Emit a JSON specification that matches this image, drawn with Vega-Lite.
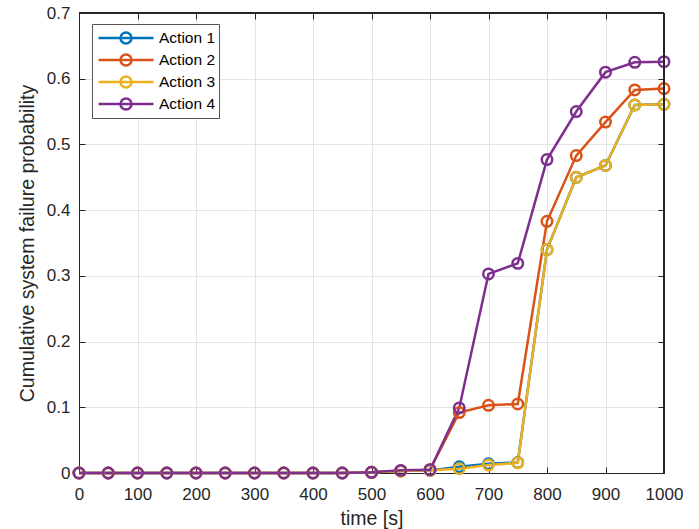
{
  "$schema": "https://vega.github.io/schema/vega-lite/v6.json",
  "width": 585,
  "height": 460,
  "autosize": {"type": "none"},
  "padding": {"left": 79, "top": 13, "right": 35, "bottom": 56},
  "background": "white",
  "config": {
    "view": {"stroke": "#262626", "strokeWidth": 1},
    "font": "Liberation Sans",
    "axis": {
      "domainColor": "#262626",
      "tickColor": "#262626",
      "labelColor": "#262626",
      "titleColor": "#262626",
      "gridColor": "#e3e3e3",
      "tickSize": -6,
      "labelFontSize": 17,
      "titleFontSize": 19.5,
      "titleFontWeight": "normal",
      "labelFont": "Liberation Sans",
      "titleFont": "Liberation Sans",
      "labelFlush": false
    },
    "legend": {
      "orient": "none",
      "legendX": 13,
      "legendY": 11,
      "strokeColor": "#555555",
      "fillColor": "white",
      "padding": 3,
      "symbolOffset": 2,
      "labelOffset": 4,
      "symbolType": "M-1,0L1,0M-0.2,0A0.2,0.2,0,1,0,0.2,0A0.2,0.2,0,1,0,-0.2,0",
      "symbolSize": 3025,
      "symbolStrokeWidth": 2.5,
      "clipHeight": 21.8,
      "rowPadding": 0,
      "labelFontSize": 15.5,
      "labelColor": "#000000",
      "labelFont": "Liberation Sans"
    }
  },
  "data": {
    "values": [
      {"s": "Action 1", "t": 0, "p": 0}, {"s": "Action 1", "t": 50, "p": 0}, {"s": "Action 1", "t": 100, "p": 0}, {"s": "Action 1", "t": 150, "p": 0}, {"s": "Action 1", "t": 200, "p": 0}, {"s": "Action 1", "t": 250, "p": 0}, {"s": "Action 1", "t": 300, "p": 0}, {"s": "Action 1", "t": 350, "p": 0}, {"s": "Action 1", "t": 400, "p": 0}, {"s": "Action 1", "t": 450, "p": 0}, {"s": "Action 1", "t": 500, "p": 0.001}, {"s": "Action 1", "t": 550, "p": 0.003}, {"s": "Action 1", "t": 600, "p": 0.004}, {"s": "Action 1", "t": 650, "p": 0.0095}, {"s": "Action 1", "t": 700, "p": 0.014}, {"s": "Action 1", "t": 750, "p": 0.016}, {"s": "Action 1", "t": 800, "p": 0.34}, {"s": "Action 1", "t": 850, "p": 0.45}, {"s": "Action 1", "t": 900, "p": 0.468}, {"s": "Action 1", "t": 950, "p": 0.56}, {"s": "Action 1", "t": 1000, "p": 0.561},
      {"s": "Action 2", "t": 0, "p": 0}, {"s": "Action 2", "t": 50, "p": 0}, {"s": "Action 2", "t": 100, "p": 0}, {"s": "Action 2", "t": 150, "p": 0}, {"s": "Action 2", "t": 200, "p": 0}, {"s": "Action 2", "t": 250, "p": 0}, {"s": "Action 2", "t": 300, "p": 0}, {"s": "Action 2", "t": 350, "p": 0}, {"s": "Action 2", "t": 400, "p": 0}, {"s": "Action 2", "t": 450, "p": 0}, {"s": "Action 2", "t": 500, "p": 0.001}, {"s": "Action 2", "t": 550, "p": 0.003}, {"s": "Action 2", "t": 600, "p": 0.005}, {"s": "Action 2", "t": 650, "p": 0.092}, {"s": "Action 2", "t": 700, "p": 0.103}, {"s": "Action 2", "t": 750, "p": 0.105}, {"s": "Action 2", "t": 800, "p": 0.383}, {"s": "Action 2", "t": 850, "p": 0.483}, {"s": "Action 2", "t": 900, "p": 0.534}, {"s": "Action 2", "t": 950, "p": 0.583}, {"s": "Action 2", "t": 1000, "p": 0.585},
      {"s": "Action 3", "t": 0, "p": 0}, {"s": "Action 3", "t": 50, "p": 0}, {"s": "Action 3", "t": 100, "p": 0}, {"s": "Action 3", "t": 150, "p": 0}, {"s": "Action 3", "t": 200, "p": 0}, {"s": "Action 3", "t": 250, "p": 0}, {"s": "Action 3", "t": 300, "p": 0}, {"s": "Action 3", "t": 350, "p": 0}, {"s": "Action 3", "t": 400, "p": 0}, {"s": "Action 3", "t": 450, "p": 0}, {"s": "Action 3", "t": 500, "p": 0.001}, {"s": "Action 3", "t": 550, "p": 0.003}, {"s": "Action 3", "t": 600, "p": 0.004}, {"s": "Action 3", "t": 650, "p": 0.0065}, {"s": "Action 3", "t": 700, "p": 0.012}, {"s": "Action 3", "t": 750, "p": 0.0155}, {"s": "Action 3", "t": 800, "p": 0.34}, {"s": "Action 3", "t": 850, "p": 0.45}, {"s": "Action 3", "t": 900, "p": 0.468}, {"s": "Action 3", "t": 950, "p": 0.56}, {"s": "Action 3", "t": 1000, "p": 0.561},
      {"s": "Action 4", "t": 0, "p": 0}, {"s": "Action 4", "t": 50, "p": 0}, {"s": "Action 4", "t": 100, "p": 0}, {"s": "Action 4", "t": 150, "p": 0}, {"s": "Action 4", "t": 200, "p": 0}, {"s": "Action 4", "t": 250, "p": 0}, {"s": "Action 4", "t": 300, "p": 0}, {"s": "Action 4", "t": 350, "p": 0}, {"s": "Action 4", "t": 400, "p": 0}, {"s": "Action 4", "t": 450, "p": 0}, {"s": "Action 4", "t": 500, "p": 0.001}, {"s": "Action 4", "t": 550, "p": 0.004}, {"s": "Action 4", "t": 600, "p": 0.005}, {"s": "Action 4", "t": 650, "p": 0.099}, {"s": "Action 4", "t": 700, "p": 0.303}, {"s": "Action 4", "t": 750, "p": 0.319}, {"s": "Action 4", "t": 800, "p": 0.477}, {"s": "Action 4", "t": 850, "p": 0.55}, {"s": "Action 4", "t": 900, "p": 0.61}, {"s": "Action 4", "t": 950, "p": 0.625}, {"s": "Action 4", "t": 1000, "p": 0.626}
    ]
  },
  "layer": [
    {
      "mark": {"type": "line", "strokeWidth": 2.5, "point": {"filled": false, "size": 110, "strokeWidth": 2.5}},
      "encoding": {
        "x": {
          "field": "t", "type": "quantitative",
          "scale": {"domain": [0, 1000], "nice": false, "zero": false},
          "axis": {"values": [0, 100, 200, 300, 400, 500, 600, 700, 800, 900, 1000], "grid": true, "title": "time [s]", "labelPadding": 19, "titlePadding": 7, "format": "d"}
        },
        "y": {
          "field": "p", "type": "quantitative",
          "scale": {"domain": [0, 0.7], "nice": false},
          "axis": {"values": [0, 0.1, 0.2, 0.3, 0.4, 0.5, 0.6, 0.7], "grid": true, "title": "Cumulative system failure probability", "labelPadding": 15, "titlePadding": 9, "format": ".1~f"}
        },
        "color": {
          "field": "s", "type": "nominal",
          "scale": {"domain": ["Action 1", "Action 2", "Action 3", "Action 4"], "range": ["#0072BD", "#D95319", "#EDB120", "#7E2F8E"]},
          "legend": {"title": null}
        }
      }
    },
    {
      "mark": {"type": "point", "opacity": 0},
      "encoding": {
        "x": {
          "field": "t", "type": "quantitative",
          "scale": {"domain": [0, 1000], "nice": false, "zero": false},
          "axis": {"orient": "top", "values": [0, 100, 200, 300, 400, 500, 600, 700, 800, 900, 1000], "labels": false, "grid": false, "title": null}
        },
        "y": {
          "field": "p", "type": "quantitative",
          "scale": {"domain": [0, 0.7], "nice": false},
          "axis": {"orient": "right", "values": [0, 0.1, 0.2, 0.3, 0.4, 0.5, 0.6, 0.7], "labels": false, "grid": false, "title": null}
        }
      }
    },
    {
      "mark": {"type": "rule", "color": "#262626", "strokeWidth": 1},
      "encoding": {
        "y": {"datum": 0.7, "type": "quantitative", "scale": {"domain": [0, 0.7], "nice": false}, "axis": null}
      }
    },
    {
      "mark": {"type": "rule", "color": "#262626", "strokeWidth": 1},
      "encoding": {
        "x": {"datum": 1000, "type": "quantitative", "scale": {"domain": [0, 1000], "nice": false}, "axis": null}
      }
    }
  ],
  "resolve": {"scale": {"x": "independent", "y": "independent"}, "axis": {"x": "independent", "y": "independent"}}
}
